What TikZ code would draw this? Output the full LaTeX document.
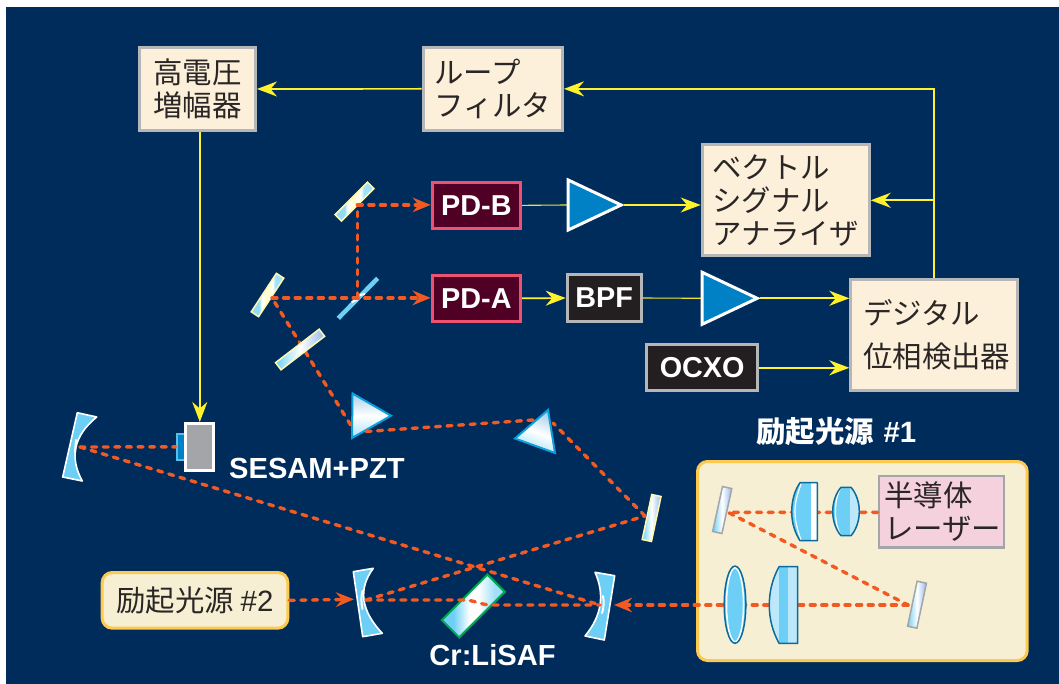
\documentclass[tikz,border=0pt]{standalone}
\usepackage{fontspec}
\usetikzlibrary{arrows.meta}
\setmainfont{Liberation Sans}
\newfontfamily\jpf{Noto Sans CJK JP}
\definecolor{navy}{HTML}{002C5C}
\definecolor{cream}{HTML}{FDF0DA}
\definecolor{boxgray}{HTML}{B4B6B8}
\definecolor{ink}{HTML}{2A2626}
\definecolor{pdfill}{HTML}{4F0024}
\definecolor{pdedge}{HTML}{EE5272}
\definecolor{blk}{HTML}{231F20}
\definecolor{yline}{HTML}{FFF22D}
\definecolor{beam}{HTML}{F15A22}
\definecolor{amp}{HTML}{0080C5}
\definecolor{sky}{HTML}{6DCFF6}
\definecolor{lsky}{HTML}{BDE8FB}
\definecolor{pale}{HTML}{F7EFD3}
\definecolor{gold}{HTML}{FDC94E}
\definecolor{pinkf}{HTML}{F5D1DD}
\definecolor{optyel}{HTML}{FFF9B0}
\definecolor{optgray}{HTML}{A3A5A8}
\definecolor{lensedge}{HTML}{0A6C9C}
\definecolor{prismedge}{HTML}{0BA0DC}
\definecolor{gsteel}{HTML}{A9CFEC}
\definecolor{crystaledge}{HTML}{00A651}
\pgfdeclarehorizontalshading{stripemirror}{100bp}{color(0bp)=(sky!75!white); color(37bp)=(sky!75!white); color(41bp)=(white); color(50bp)=(white!80!yellow); color(58bp)=(white); color(62bp)=(sky!65!white); color(100bp)=(sky!65!white)}
\pgfdeclarehorizontalshading{crystalshade}{100bp}{color(0bp)=(sky); color(34bp)=(sky); color(47bp)=(white); color(54bp)=(white); color(67bp)=(sky!65!white); color(100bp)=(sky!65!white)}
\pgfdeclarehorizontalshading{platemirror}{100bp}{color(0bp)=(sky!95!white); color(26bp)=(sky!95!white); color(50bp)=(white); color(74bp)=(gsteel!90!blue); color(100bp)=(gsteel!90!blue)}
\tikzset{
  x=1pt,y=1pt,
  textbox/.style={draw=boxgray,fill=cream,line width=3pt,inner sep=0pt,text=ink,align=center,font=\jpf\fontsize{29.4}{33}\selectfont},
  pdbox/.style={draw=pdedge,fill=pdfill,line width=3pt,inner sep=0pt,text=white,font=\bfseries\fontsize{28.8}{33}\selectfont},
  blkbox/.style={draw=boxgray,fill=blk,line width=3pt,inner sep=0pt,text=white,font=\bfseries\fontsize{28.8}{33}\selectfont},
  lefttext/.style={align=left,text width=\bxw pt-2*#1 pt,inner xsep=#1 pt},
  lineat/.style={font=\jpf\fontsize{29.4}{#1}\selectfont},
  pumpbox/.style={draw=gold,fill=pale,line width=3pt,rounded corners=10pt,inner sep=0pt,text=ink,font=\jpf\fontsize{29.4}{33}\selectfont},
  laserbox/.style={draw=optgray,fill=pinkf,line width=2.5pt,inner sep=0pt,text=ink,font=\jpf\fontsize{29.4}{33}\selectfont},
  wlabel/.style={text=white,inner sep=0pt,font=\bfseries\fontsize{29.1}{33}\selectfont},
  yarrow/.style={draw=yline,line width=1.7pt,-{Stealth[length=20pt,width=15pt,inset=6.5pt,fill=yline]}},
  ythin/.style={draw=yline!92!navy,line width=1.1pt},
  beamline/.style={draw=beam,line width=3.4pt,line cap=round,dash pattern=on 5pt off 6.6pt},
  beamarrow/.style={beamline,-{Stealth[length=18pt,width=14.5pt,inset=6pt,fill=beam]}},
  ampshape/.style={draw=white,fill=amp,line width=3pt,line join=miter},
  flatopt/.style={rectangle,inner sep=0pt,line width=1.5pt},
  splitmirror/.style={flatopt,draw=optyel,shading=stripemirror},
  platemir/.style={flatopt,draw=optyel,shading=platemirror},
  graymir/.style={flatopt,draw=optgray,shading=platemirror},
  prism/.style={draw=prismedge,line width=2pt,line join=miter,top color=gsteel,bottom color=sky!60!white,middle color=white},
  curved/.style={draw=white,fill=sky,line width=1.6pt,line join=round},
  lensline/.style={draw=lensedge,line width=1.5pt,line join=round},
}
\newcommand{\bx}[7]{%
  \pgfmathsetmacro\bxw{#5-#3-3}\pgfmathsetmacro\bxh{#6-#4-3}%
  \node[#1,minimum width=\bxw pt,minimum height=\bxh pt] (#2) at ({(#3+#5)/2},{-(#4+#6)/2}) {#7};}
\begin{document}
\begin{tikzpicture}
\useasboundingbox (0,0) rectangle (1059,-684);
\fill[white] (0,0) rectangle (1059,-684);
\fill[navy] (6,-7) rectangle (1059,-684);

% --- signal boxes
\bx{textbox}{hv}{138}{46}{257}{132}{高電圧\\増幅器}
\bx{textbox,lefttext=11}{loop}{421.7}{45.7}{564}{132}{ループ\\フィルタ}
\bx{textbox,lefttext=10}{vsa}{700.7}{143.3}{870.7}{257.3}{ベクトル\\シグナル\\アナライザ}
\bx{textbox,lefttext=12.5,lineat=43}{dpd}{849.3}{278.3}{1019.3}{392.3}{\raisebox{4pt}{デジタル}\\\raisebox{4pt}{位相検出器}}
\bx{pdbox}{pdb}{430.7}{180.7}{522}{230}{PD-B}
\bx{pdbox}{pda}{430.7}{273.7}{522}{323}{PD-A}
\bx{blkbox}{bpf}{565.7}{273.3}{642.7}{322.7}{BPF}
\bx{blkbox}{ocxo}{645}{343.3}{759.3}{392.3}{OCXO}

% --- pump sources
\bx{pumpbox}{pumpa}{696}{460}{1028.7}{662}{}
\bx{pumpbox}{pumpb}{100.7}{571}{289.3}{629.7}{励起光源 {\rmfamily\#2}}
\bx{laserbox,lefttext=5.5}{laser}{877.3}{474.3}{1005.7}{549}{半導体\\レーザー}

% --- amplifier reference points
\coordinate (ampbin) at (567,-205);
\coordinate (ampbout) at (624,-205);
\coordinate (ampain) at (701,-298.3);
\coordinate (ampaout) at (760,-298.3);

% --- yellow signal lines
\draw[yarrow] (dpd.north) |- (loop.east);
\draw[yarrow] (dpd.north |- vsa.east) -- (vsa.east);
\draw[yarrow] (loop.west) -- (hv.east);
\draw[ythin] (pdb.east) -- (ampbin);
\draw[yarrow] (ampbout) -- (vsa.west |- ampbout);
\draw[yarrow] (pda.east) -- (bpf.west);
\draw[ythin] (bpf.east) -- (ampain);
\draw[yarrow] (ampaout) -- (dpd.west |- ampaout);
\draw[yarrow] (ocxo.east) -- (dpd.west |- ocxo.east);
\path[ampshape] (568.2,-180) -- (621.2,-205) -- (568.2,-230) -- cycle;
\path[ampshape] (702.2,-272.3) -- (757.2,-298.3) -- (702.2,-324.3) -- cycle;

% --- SESAM
\bx{draw=sky!80!amp,fill=amp,line width=2pt,inner sep=0pt}{pz}{175}{432}{187}{461.7}{}
\bx{draw=white,fill=optgray,line width=3pt,inner sep=0pt}{sesam}{184.3}{422}{215.3}{471.7}{}
\draw[yarrow] (sesam.north |- hv.south) -- (sesam.north);

% --- optics under the beams
\path[curved] (77.3,-412.7) -- (96.7,-417) .. controls (73.9,-435.7) and (69.1,-457) .. (82.3,-481) -- (62.7,-477) -- cycle;
\draw[white,line width=2pt,line cap=round] (76,-440) -- (75,-452);
\path[curved] (353.3,-571.7) -- (373.3,-568.3) .. controls (357.9,-588.9) and (360.9,-610.6) .. (382.3,-633.3) -- (362.7,-636.7) -- cycle;
\draw[white,line width=2pt,line cap=round] (362.5,-591) .. controls (361,-596) and (361,-603) .. (362.5,-609);
\path[curved] (614.7,-575.7) -- (595,-572.3) .. controls (605,-594.6) and (601.7,-615.9) .. (585,-636) -- (604.3,-640) -- cycle;
\draw[white,line width=2pt,line cap=round] (603,-596) .. controls (604,-601) and (604,-608) .. (602,-613);
\node[flatopt,draw=crystaledge,line width=2pt,shading=crystalshade,minimum width=64.5pt,minimum height=24.5pt,rotate=45] (crystal) at (473.3,-606) {};
\node[rotate=56.8,splitmirror,minimum width=46pt,minimum height=8.8pt] (fmA) at (267.5,-295) {};
\node[rotate=45,splitmirror,minimum width=46pt,minimum height=9pt] (fmB) at (354.5,-201.6) {};
\node[rotate=78,platemir,minimum width=46pt,minimum height=9.5pt] (fold) at (651.6,-518) {};
\path[prism] (352.5,-393.5) -- (391,-415.7) -- (352,-438) -- cycle;
\path[prism,shading angle=-20] (548,-410) -- (515,-438.5) -- (555,-453) -- cycle;
\draw[sky,line width=4.5pt] (338.3,-318.3) coordinate (bsa) -- (377.7,-278.3) coordinate (bsb);
\draw[white,line width=2.2pt] (351.7,-302.3) -- (358,-299);
\draw[white,line width=2pt] (360,-295) -- (365,-294);
\node[rotate=77.6,graymir,minimum width=46pt,minimum height=9.5pt] (pma) at (722.2,-510) {};
\node[rotate=78,graymir,minimum width=46pt,minimum height=9.5pt] (pmb) at (917,-604.7) {};

% --- beam points
\coordinate (mL) at (80,-447);
\coordinate (mR) at (600,-605);
\coordinate (mM) at (366,-600);
\coordinate (xa) at (463,-600);
\coordinate (xb) at (492,-605);
\coordinate (fp) at (645,-516);
\coordinate (pr2a) at (553,-423);
\coordinate (pr2b) at (533,-420);
\coordinate (pr1b) at (363.3,-431.7);
\coordinate (pr1a) at (350.7,-425);
\coordinate (pA) at (272,-297.9);
\coordinate (pS) at (357.3,-297.9);
\coordinate (pB) at (357.3,-204.9);
\coordinate (pu1) at (908,-605);
\coordinate (pu2) at (728,-512.3);

% --- beams
\draw[beamline] (mL) -- (pz.west);
\draw[beamline] (mL) -- (mR);
\draw[beamline] (mM) -- (xa) .. controls (475,-600) and (480,-605) .. (xb) -- (mR);
\draw[beamline] (mM) -- (fp);
\draw[beamline] (fp) -- (pr2a);
\draw[beamline] (pr2b) -- (pr1b);
\draw[beamline] (pr1a) -- (pA);
\draw[beamarrow] (pA) -- (pda.west |- pA);
\draw[beamline] (pS) -- (pB);
\draw[beamarrow] (pB) -- (pdb.west |- pB);
\draw[beamarrow] (pumpb.east) -- (354,-599.3);
\draw[beamline] (laser.west |- pu2) -- (pu2) -- (pu1);
\draw[beamarrow] (pu1) -- (614,-605);

% --- optics above the beams
\node[rotate=37.5,platemir,minimum width=55pt,minimum height=9pt] (plate) at (300.1,-349.5) {};
% lens 1
\begin{scope}
  \clip (817.3,-482.7) -- (800,-482.7) .. controls (795,-490) and (791.7,-500) .. (791.7,-511.7) .. controls (791.7,-523) and (795,-533) .. (800,-540.7) -- (817.3,-540.7) -- cycle;
  \fill[sky] (790,-480) rectangle (818,-542);
  \fill[white] (810.7,-480) rectangle (818,-542);
  \draw[white,line width=1.2pt] (801,-484) .. controls (797,-495) and (795,-503) .. (795,-511.7) .. controls (795,-520) and (797,-529) .. (801,-540);
\end{scope}
\draw[lensline] (817.3,-482.7) -- (800,-482.7) .. controls (795,-490) and (791.7,-500) .. (791.7,-511.7) .. controls (791.7,-523) and (795,-533) .. (800,-540.7) -- (817.3,-540.7) -- cycle;
% lens 2
\begin{scope}
  \clip (841,-487.3) -- (851,-487.3) .. controls (856,-493) and (859.3,-502) .. (859.3,-511.5) .. controls (859.3,-521) and (856,-530) .. (851,-535.7) -- (841,-535.7) .. controls (836,-530) and (832.7,-521) .. (832.7,-511.5) .. controls (832.7,-502) and (836,-493) .. (841,-487.3) -- cycle;
  \fill[sky] (830,-485) rectangle (861,-538);
  \fill[lsky] (850,-485) rectangle (861,-538);
  \draw[white,line width=1.2pt] (840,-489) .. controls (836,-498) and (835.5,-505) .. (835.5,-511.5) .. controls (835.5,-518) and (836,-525) .. (840,-534);
\end{scope}
\draw[lensline] (841,-487.3) -- (851,-487.3) .. controls (856,-493) and (859.3,-502) .. (859.3,-511.5) .. controls (859.3,-521) and (856,-530) .. (851,-535.7) -- (841,-535.7) .. controls (836,-530) and (832.7,-521) .. (832.7,-511.5) .. controls (832.7,-502) and (836,-493) .. (841,-487.3) -- cycle;
% lens 3
\begin{scope}
  \clip (735,-604.7) ellipse [x radius=10.8,y radius=38.6];
  \fill[sky] (720,-560) rectangle (750,-650);
  \draw[white,line width=1.5pt] (735,-604.7) ellipse [x radius=8.5,y radius=37];
\end{scope}
\draw[lensline] (735,-604.7) ellipse [x radius=10.8,y radius=38.6];
% lens 4
\begin{scope}
  \clip (797.7,-566.7) -- (779,-566.7) .. controls (773,-578) and (769.3,-590) .. (769.3,-605) .. controls (769.3,-620) and (773,-632) .. (779,-643.3) -- (797.7,-643.3) -- cycle;
  \fill[lsky] (767,-565) rectangle (799,-645);
  \fill[sky] (779,-565) rectangle (788.3,-645);
\end{scope}
\draw[lensline] (797.7,-566.7) -- (779,-566.7) .. controls (773,-578) and (769.3,-590) .. (769.3,-605) .. controls (769.3,-620) and (773,-632) .. (779,-643.3) -- (797.7,-643.3) -- cycle;

% --- labels
\node[wlabel,anchor=west] (sesamlabel) at (229,-468) {SESAM+PZT};
\node[wlabel] (crlabel) at (492.5,-655) {Cr:LiSAF};
\node[wlabel,anchor=west,font=\jpf\bfseries\fontsize{29.4}{33}\selectfont] (pumpalabel) at (756,-432) {励起光源\hspace{3pt} {\rmfamily\bfseries\#1}};
\end{tikzpicture}
\end{document}
